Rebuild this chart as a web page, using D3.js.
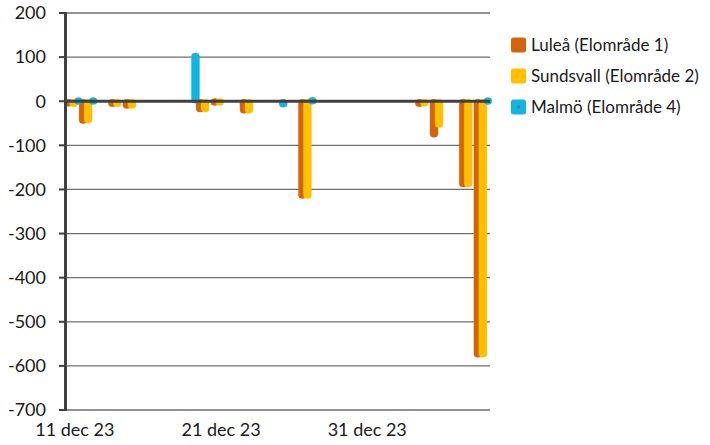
<!DOCTYPE html>
<html>
<head>
<meta charset="utf-8">
<script src="https://cdnjs.cloudflare.com/ajax/libs/d3/7.8.5/d3.min.js"></script>
<style>
    html, body { margin: 0; padding: 0; background: #fff; }
    svg text { font-family: Lato, "Open Sans", sans-serif; fill: #1a1a1a; }
</style>
</head>
<body>
<div id="chart"></div>
<script>
// dagar: 11 dec 23 .. 8 jan 24
var days = d3.timeDay.range(new Date(2023, 11, 11), new Date(2024, 0, 9));

var seriesNames = ["Luleå (Elområde 1)", "Sundsvall (Elområde 2)", "Malmö (Elområde 4)"];
var seriesColors = ["#d2650d", "#ffc000", "#14b4e0"];

var lulea = [-7, -46, null, -8, -12, null, null, null, null, -20, -4, null, -23, null, null, null,
    -216, null, null, null, null, null, null, null, -8, -77, null, -190, -576];
var sundsvall = [-8, -45, null, -8, -12, null, null, null, null, -20, -4, null, -23, null, null, null,
    -216, null, null, null, null, null, null, null, -7, -55, null, -190, -576];
var malmo = [1, 1, null, null, null, null, null, null, 105, null, null, null, null, null, -9, null,
    2, null, null, null, null, null, null, null, null, null, null, null, 1];

var yTicks = [200, 100, 0, -100, -200, -300, -400, -500, -600, -700];
var xLabelDays = [0, 10, 20];

function draw_chart(_containerId) {
    var WIDTH = 710, HEIGHT = 445;
    var LEFT = 66, RIGHT = 490, TOP = 13, BOTTOM = 410;

    var svg = d3.select(_containerId).append("svg")
        .attr("width", WIDTH)
        .attr("height", HEIGHT);

    var x = d3.scaleBand()
        .domain(d3.range(days.length))
        .range([LEFT, RIGHT])
        .padding(0);

    // serierna ligger överlappande, något förskjutna
    var xs = d3.scaleLinear().domain([0, 2]).range([-1.5, 8.5]);
    var BAR_W = 8, MIN_H = 7;

    var y = d3.scaleLinear()
        .domain([-700, 200])
        .range([BOTTOM, TOP]);

    var fmtDay = d3.timeFormat("%-d");
    var months = { 11: "dec", 0: "jan" };

    // stödlinjer
    svg.append("g").attr("class", "grid")
        .selectAll("line")
        .data(yTicks.filter(function (d) { return d !== 0; }))
        .enter().append("line")
        .attr("x1", LEFT)
        .attr("x2", RIGHT)
        .attr("y1", function (d) { return y(d); })
        .attr("y2", function (d) { return y(d); })
        .attr("stroke", "#6e6e6e")
        .attr("stroke-width", 1.3);

    var seriesData = [lulea, sundsvall, malmo];

    function barBox(v) {
        var top = Math.min(y(0), y(v)) - 2,
            h = Math.abs(y(v) - y(0)) + 4;
        if (h < MIN_H) {
            top -= (MIN_H - h) / 2;
            h = MIN_H;
        }
        return { top: top, h: h };
    }

    var bars = svg.append("g").attr("class", "bars");
    seriesData.forEach(function (vals, si) {
        var pts = vals.map(function (v, i) { return { i: i, v: v }; })
            .filter(function (d) { return d.v !== null; });

        bars.append("g")
            .selectAll("rect")
            .data(pts)
            .enter().append("rect")
            .attr("x", function (d) { return x(d.i) + xs(si); })
            .attr("width", BAR_W)
            .attr("y", function (d) { return barBox(d.v).top; })
            .attr("height", function (d) { return barBox(d.v).h; })
            .attr("rx", 3.5)
            .attr("fill", seriesColors[si])
            .attr("stroke", seriesColors[si])
            .attr("stroke-opacity", 0.35)
            .attr("stroke-width", 1);
    });

    // nollinjen ovanpå staplarna
    svg.append("line")
        .attr("x1", LEFT).attr("x2", RIGHT)
        .attr("y1", y(0)).attr("y2", y(0))
        .attr("stroke", "#404040")
        .attr("stroke-width", 3);

    // y-axel
    var yAxis = svg.append("g").attr("class", "y-axis");
    yAxis.append("line")
        .attr("x1", LEFT - 0.5).attr("x2", LEFT - 0.5)
        .attr("y1", y(200) - 1).attr("y2", y(-700) + 1)
        .attr("stroke", "#404040")
        .attr("stroke-width", 3);

    yAxis.selectAll("line.tick")
        .data(yTicks)
        .enter().append("line")
        .attr("class", "tick")
        .attr("x1", LEFT - 7).attr("x2", LEFT)
        .attr("y1", function (d) { return y(d); })
        .attr("y2", function (d) { return y(d); })
        .attr("stroke", "#404040")
        .attr("stroke-width", 2);

    yAxis.selectAll("text")
        .data(yTicks)
        .enter().append("text")
        .attr("x", 46)
        .attr("y", function (d) { return y(d); })
        .attr("dy", "0.35em")
        .attr("text-anchor", "end")
        .style("font-size", "18px")
        .text(function (d) { return d; });

    // x-etiketter
    svg.append("g").attr("class", "x-labels")
        .selectAll("text")
        .data(xLabelDays)
        .enter().append("text")
        .attr("x", function (i) { return x(i) + x.bandwidth() / 2 + 1.5; })
        .attr("y", 436)
        .attr("text-anchor", "middle")
        .style("font-size", "18px")
        .text(function (i) {
            var d = days[i];
            return fmtDay(d) + " " + months[d.getMonth()] + " " + String(d.getFullYear()).slice(2);
        });

    // förklaring
    var legend = svg.append("g").attr("class", "legend")
        .selectAll("g")
        .data(seriesNames)
        .enter().append("g")
        .attr("transform", function (d, i) {
            return "translate(511," + [45, 76, 107][i] + ")";
        });

    legend.append("rect")
        .attr("x", 0).attr("y", -7.5)
        .attr("width", 15).attr("height", 15)
        .attr("rx", 2.5)
        .attr("fill", function (d, i) { return seriesColors[i]; });

    legend.filter(function (d, i) { return i === 2; })
        .append("rect")
        .attr("x", 6).attr("y", -1.5)
        .attr("width", 3).attr("height", 3)
        .attr("fill", "#2a8db0");

    legend.append("text")
        .attr("x", 20)
        .attr("y", 0)
        .attr("dy", "0.35em")
        .style("font-size", "17px")
        .text(function (d) { return d; });
}

draw_chart("#chart");
</script>
</body>
</html>
